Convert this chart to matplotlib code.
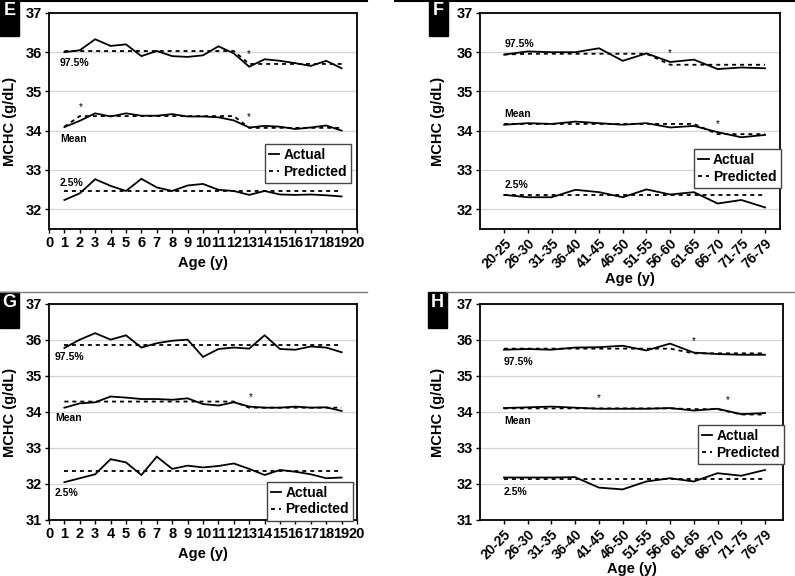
import numpy as np
import matplotlib
matplotlib.use("Agg")
import matplotlib.pyplot as plt
from matplotlib.lines import Line2D

plt.rcParams['font.family'] = ['Liberation Sans', 'DejaVu Sans']
plt.rcParams['font.weight'] = 'bold'

# ---- data ----
ages_child = np.arange(1, 20)
age_groups = ["20-25", "26-30", "31-35", "36-40", "41-45", "46-50",
              "51-55", "56-60", "61-65", "66-70", "71-75", "76-79"]

# panel E
e_hi_act = [36.00, 36.05, 36.33, 36.16, 36.20, 35.90, 36.03, 35.90, 35.88, 35.92,
            36.15, 35.97, 35.63, 35.82, 35.78, 35.72, 35.65, 35.78, 35.59]
e_hi_pred = [36.03, 36.03, 36.03, 36.03, 36.03, 36.03, 36.03, 36.03, 36.03, 36.03,
             36.03, 36.03, 35.70, 35.70, 35.70, 35.70, 35.70, 35.70, 35.70]
e_mean_act = [34.09, 34.25, 34.44, 34.36, 34.44, 34.38, 34.38, 34.42, 34.36, 34.36,
              34.34, 34.26, 34.08, 34.12, 34.10, 34.04, 34.08, 34.13, 34.00]
e_mean_pred = [34.10, 34.37, 34.37, 34.37, 34.37, 34.37, 34.37, 34.37, 34.37, 34.37,
               34.37, 34.37, 34.07, 34.07, 34.07, 34.07, 34.07, 34.07, 34.07]
e_lo_act = [32.23, 32.40, 32.76, 32.59, 32.46, 32.77, 32.55, 32.46, 32.60, 32.64,
            32.49, 32.46, 32.36, 32.46, 32.37, 32.36, 32.37, 32.35, 32.32]
e_lo_pred = [32.45, 32.45, 32.45, 32.45, 32.45, 32.45, 32.45, 32.45, 32.45, 32.45,
             32.45, 32.45, 32.45, 32.45, 32.45, 32.45, 32.45, 32.45, 32.45]

# panel F
f_hi_act = [35.94, 36.02, 36.00, 36.00, 36.10, 35.78, 35.97, 35.75, 35.81, 35.57, 35.61, 35.59]
f_hi_pred = [35.94, 35.96, 35.96, 35.96, 35.96, 35.96, 35.96, 35.68, 35.68, 35.68, 35.68, 35.68]
f_mean_act = [34.15, 34.19, 34.17, 34.23, 34.19, 34.15, 34.19, 34.08, 34.12, 33.96, 33.83, 33.89]
f_mean_pred = [34.17, 34.17, 34.17, 34.17, 34.17, 34.17, 34.17, 34.17, 34.17, 33.91, 33.91, 33.91]
f_lo_act = [32.36, 32.30, 32.30, 32.49, 32.43, 32.30, 32.50, 32.37, 32.43, 32.14, 32.23, 32.04]
f_lo_pred = [32.36, 32.36, 32.36, 32.36, 32.36, 32.36, 32.36, 32.36, 32.36, 32.36, 32.36, 32.36]

# panel G
g_hi_act = [35.78, 36.01, 36.19, 36.01, 36.13, 35.79, 35.91, 35.98, 36.01, 35.53,
            35.75, 35.79, 35.76, 36.13, 35.75, 35.73, 35.82, 35.79, 35.66]
g_hi_pred = [35.87, 35.87, 35.87, 35.87, 35.87, 35.87, 35.87, 35.87, 35.87, 35.87,
             35.87, 35.87, 35.87, 35.87, 35.87, 35.87, 35.87, 35.87, 35.87]
g_mean_act = [34.12, 34.24, 34.27, 34.43, 34.40, 34.36, 34.36, 34.34, 34.38, 34.22,
              34.18, 34.27, 34.15, 34.12, 34.12, 34.15, 34.12, 34.13, 34.03]
g_mean_pred = [34.29, 34.29, 34.29, 34.29, 34.29, 34.29, 34.29, 34.29, 34.29, 34.29,
               34.29, 34.29, 34.12, 34.12, 34.12, 34.12, 34.12, 34.12, 34.12]
g_lo_act = [32.05, 32.16, 32.27, 32.69, 32.60, 32.25, 32.76, 32.42, 32.51, 32.46,
            32.50, 32.57, 32.42, 32.25, 32.39, 32.34, 32.27, 32.16, 32.18]
g_lo_pred = [32.36, 32.36, 32.36, 32.36, 32.36, 32.36, 32.36, 32.36, 32.36, 32.36,
             32.36, 32.36, 32.36, 32.36, 32.36, 32.36, 32.36, 32.36, 32.36]

# panel H
h_hi_act = [35.73, 35.75, 35.73, 35.79, 35.80, 35.84, 35.71, 35.90, 35.65, 35.61, 35.59, 35.59]
h_hi_pred = [35.76, 35.76, 35.76, 35.76, 35.76, 35.76, 35.76, 35.76, 35.63, 35.63, 35.63, 35.63]
h_mean_act = [34.11, 34.13, 34.15, 34.12, 34.09, 34.09, 34.09, 34.11, 34.04, 34.09, 33.94, 33.97]
h_mean_pred = [34.10, 34.10, 34.10, 34.10, 34.10, 34.10, 34.10, 34.10, 34.08, 34.08, 33.93, 33.93]
h_lo_act = [32.18, 32.18, 32.18, 32.19, 31.90, 31.85, 32.07, 32.16, 32.07, 32.30, 32.23, 32.39]
h_lo_pred = [32.13, 32.13, 32.13, 32.13, 32.13, 32.13, 32.13, 32.13, 32.13, 32.13, 32.13, 32.13]

W, H = 795, 576
fig = plt.figure(figsize=(W / 100, H / 100), dpi=100)


def px_axes(l, t, r, b):
    return fig.add_axes([l / W, 1 - b / H, (r - l) / W, (b - t) / H])


def style(ax, ylo):
    ax.set_ylim(ylo, 37)
    ax.set_yticks([31, 32, 33, 34, 35, 36, 37] if ylo <= 31 else [32, 33, 34, 35, 36, 37])
    ax.yaxis.grid(True, color="#d4d4d4", linewidth=0.9)
    ax.set_axisbelow(True)
    for s in ax.spines.values():
        s.set_linewidth(1.3)
    ax.tick_params(axis="both", direction="out", length=3, width=1.0, labelsize=10.5, pad=2)
    ax.set_ylabel("MCHC (g/dL)", fontsize=10.5, fontweight="bold")
    ax.set_xlabel("Age (y)", fontsize=10.5, fontweight="bold")


def draw(ax, x, act, pred):
    for a, p in zip(act, pred):
        ax.plot(x, a, color="black", lw=1.3, solid_joinstyle="miter")
        ax.plot(x, p, color="black", lw=1.3, linestyle=(0, (2.2, 2.2)))


def legend(ax, x0, y1):
    handles = [Line2D([], [], color="black", lw=1.3),
               Line2D([], [], color="black", lw=1.3, linestyle=(0, (2.2, 2.2)))]
    leg = ax.legend(handles, ["Actual", "Predicted"], loc="upper left",
                    bbox_to_anchor=(x0, y1), fancybox=False, framealpha=1,
                    edgecolor="#444444", fontsize=10, handlelength=0.75,
                    handletextpad=0.3, borderpad=0.3, labelspacing=0.2,
                    borderaxespad=0)
    leg.get_frame().set_linewidth(1.0)


def label_box(x0, y0, letter):
    fig.patches.append(plt.Rectangle((x0 / W, 1 - (y0 + 36) / H), 19 / W, 36 / H,
                                     transform=fig.transFigure, color="black"))
    fig.text((x0 + 9.5) / W, 1 - (y0 + 2) / H, letter, color="white",
             fontsize=13, fontweight="bold", ha="center", va="top")


lab_kw = dict(fontsize=7.5, fontweight="bold", ha="left", va="center")
star_kw = dict(fontsize=7, fontweight="normal", ha="center", va="center")

# ---- E ----
axE = px_axes(49, 13, 357, 229)
draw(axE, ages_child, [e_hi_act, e_mean_act, e_lo_act], [e_hi_pred, e_mean_pred, e_lo_pred])
style(axE, 31.49)
axE.set_xlim(0, 20)
axE.set_xticks(range(0, 21))
axE.text(0.72, 35.72, "97.5%", **lab_kw)
axE.text(0.72, 33.78, "Mean", **lab_kw)
axE.text(0.72, 32.67, "2.5%", **lab_kw)
axE.text(2.05, 34.61, "*", **star_kw)
axE.text(13.0, 35.94, "*", **star_kw)
axE.text(13.0, 34.34, "*", **star_kw)
legend(axE, 0.70, 0.394)
axE.yaxis.set_label_coords(-0.104, 0.5)
axE.xaxis.set_label_coords(0.5, -0.125)

# ---- F ----
xf = np.arange(len(age_groups))
axF = px_axes(480, 13, 780, 229)
draw(axF, xf, [f_hi_act, f_mean_act, f_lo_act], [f_hi_pred, f_mean_pred, f_lo_pred])
style(axF, 31.49)
axF.set_xlim(-1.02, 11.63)
axF.set_xticks(xf)
axF.set_xticklabels(age_groups, rotation=45, ha="right", rotation_mode="anchor", fontsize=10)
axF.text(0, 36.21, "97.5%", **lab_kw)
axF.text(0, 34.42, "Mean", **lab_kw)
axF.text(0, 32.60, "2.5%", **lab_kw)
axF.text(7.0, 35.98, "*", **star_kw)
axF.text(9.0, 34.17, "*", **star_kw)
legend(axF, 0.714, 0.371)
axF.yaxis.set_label_coords(-0.117, 0.5)
axF.xaxis.set_label_coords(0.5, -0.199)

# ---- G ----
axG = px_axes(49, 304, 357, 520)
draw(axG, ages_child, [g_hi_act, g_mean_act, g_lo_act], [g_hi_pred, g_mean_pred, g_lo_pred])
style(axG, 31)
axG.set_xlim(0, 20)
axG.set_xticks(range(0, 21))
axG.text(0.39, 35.53, "97.5%", **lab_kw)
axG.text(0.39, 33.83, "Mean", **lab_kw)
axG.text(0.39, 31.76, "2.5%", **lab_kw)
axG.text(13.1, 34.41, "*", **star_kw)
legend(axG, 0.707, 0.178)
axG.yaxis.set_label_coords(-0.104, 0.5)
axG.xaxis.set_label_coords(0.5, -0.125)

# ---- H ----
axH = px_axes(480, 304, 783, 520)
draw(axH, xf, [h_hi_act, h_mean_act, h_lo_act], [h_hi_pred, h_mean_pred, h_lo_pred])
style(axH, 31)
axH.set_xlim(-1.01, 11.76)
axH.set_xticks(xf)
axH.set_xticklabels(age_groups, rotation=45, ha="right", rotation_mode="anchor", fontsize=10)
axH.text(0, 35.40, "97.5%", **lab_kw)
axH.text(0, 33.76, "Mean", **lab_kw)
axH.text(0, 31.77, "2.5%", **lab_kw)
axH.text(4.0, 34.38, "*", **star_kw)
axH.text(8.0, 35.96, "*", **star_kw)
axH.text(9.45, 34.32, "*", **star_kw)
legend(axH, 0.718, 0.44)
axH.yaxis.set_label_coords(-0.117, 0.5)
axH.xaxis.set_label_coords(0.5, -0.195)

# separators and panel letters
fig.add_artist(Line2D([0, 367 / W], [1 - 0.8 / H, 1 - 0.8 / H], color="black", lw=1.5))
fig.add_artist(Line2D([395 / W, 1], [1 - 0.8 / H, 1 - 0.8 / H], color="black", lw=1.5))
fig.add_artist(Line2D([0, 367 / W], [1 - 292 / H, 1 - 292 / H], color="#777777", lw=1.0))
fig.add_artist(Line2D([446 / W, 1], [1 - 292 / H, 1 - 292 / H], color="#777777", lw=1.0))
label_box(0, 0, "E")
label_box(429, 0, "F")
label_box(0, 292, "G")
label_box(428, 292, "H")

fig.savefig("out.png", dpi=100)
